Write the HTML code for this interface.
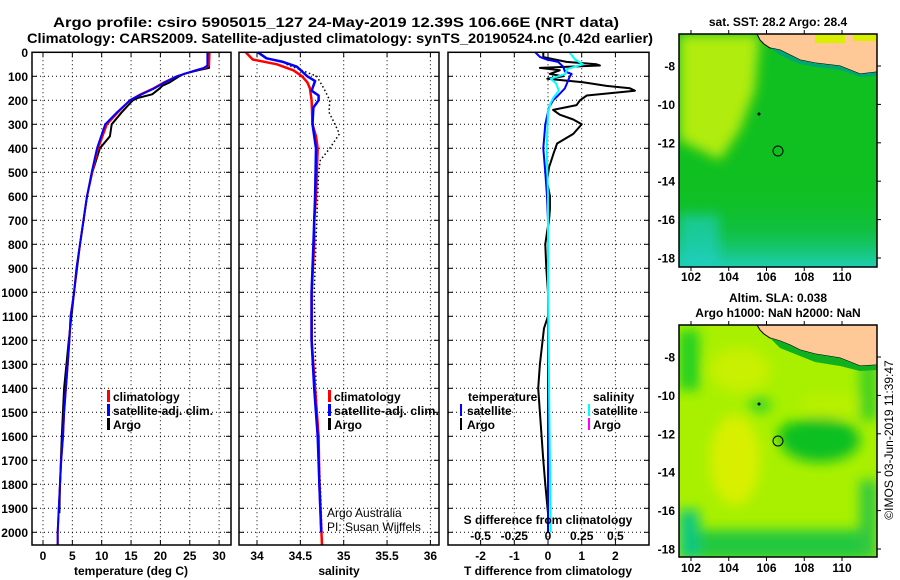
<!DOCTYPE html>
<html><head><meta charset="utf-8">
<style>
html,body{margin:0;padding:0;background:#fff;}
svg{display:block;font-family:"Liberation Sans",Arial,sans-serif;}
.b{font-weight:bold;font-size:12px;fill:#000;}
</style></head>
<body>
<svg id="chart" width="900" height="580" viewBox="0 0 900 580" xmlns="http://www.w3.org/2000/svg">
<defs>
 <clipPath id="c1"><rect x="32" y="40" width="199" height="505"/></clipPath>
 <clipPath id="c2"><rect x="239" y="40" width="200" height="505"/></clipPath>
 <clipPath id="c3"><rect x="448" y="40" width="201" height="505"/></clipPath>
 <clipPath id="m1"><rect x="679" y="34" width="198" height="233"/></clipPath>
 <clipPath id="m2"><rect x="679" y="325" width="198" height="232"/></clipPath>
 <filter id="bl" x="-20%" y="-20%" width="140%" height="140%"><feGaussianBlur stdDeviation="6"/></filter>
 <linearGradient id="sstBottom" x1="0" y1="0" x2="0" y2="1">
  <stop offset="0" stop-color="#10c030" stop-opacity="0"/>
  <stop offset="0.55" stop-color="#10c060" stop-opacity="0.5"/>
  <stop offset="1" stop-color="#20d0c0"/>
 </linearGradient>
</defs>
<text class="b" x="53" y="27" style="font-size:14px" textLength="566" lengthAdjust="spacingAndGlyphs">Argo profile: csiro 5905015_127 24-May-2019 12.39S 106.66E (NRT data)</text>
<text class="b" x="27" y="43" style="font-size:14px" textLength="626" lengthAdjust="spacingAndGlyphs">Climatology: CARS2009. Satellite-adjusted climatology: synTS_20190524.nc (0.42d earlier)</text>

<g id="grids"></g>
<g id="series"></g>
<g id="frames"></g>
<g id="labels"></g>

<g>
 <rect x="107" y="390" width="3" height="12" fill="#f00"/><text class="b" x="113" y="401">climatology</text>
 <rect x="107" y="404" width="3" height="12" fill="#00f"/><text class="b" x="113" y="415">satellite-adj. clim.</text>
 <rect x="107" y="418" width="3" height="12" fill="#000"/><text class="b" x="113" y="429">Argo</text>
</g>
<g>
 <rect x="328" y="390" width="3" height="12" fill="#f00"/><text class="b" x="334" y="401">climatology</text>
 <rect x="328" y="404" width="3" height="12" fill="#00f"/><text class="b" x="334" y="415" textLength="105" lengthAdjust="spacingAndGlyphs">satellite-adj. clim.</text>
 <rect x="328" y="418" width="3" height="12" fill="#000"/><text class="b" x="334" y="429">Argo</text>
</g>
<text x="327" y="517" style="font-size:12px">Argo Australia</text>
<text x="327" y="531" style="font-size:12px">PI: Susan Wijffels</text>
<g>
 <text class="b" x="468" y="401">temperature</text>
 <rect x="460" y="404" width="2" height="12" fill="#00f"/><text class="b" x="467" y="415">satellite</text>
 <rect x="460" y="418" width="2" height="12" fill="#000"/><text class="b" x="467" y="429">Argo</text>
 <text class="b" x="593" y="401">salinity</text>
 <rect x="588" y="404" width="2" height="12" fill="#0ff"/><text class="b" x="593" y="415">satellite</text>
 <rect x="588" y="418" width="2" height="12" fill="#f0f"/><text class="b" x="593" y="429">Argo</text>
</g>
<text class="b" x="548" y="524" text-anchor="middle">S difference from climatology</text>

<text class="b" x="778" y="26" text-anchor="middle">sat. SST: 28.2 Argo: 28.4</text>
<g clip-path="url(#m1)">
 <rect x="679" y="34" width="198" height="233" fill="#10c020"/>
 <polygon points="679,34 760,34 755,90 740,130 720,160 700,150 679,140" fill="#b0ec10" filter="url(#bl)"/>
 <rect x="679" y="180" width="198" height="90" fill="url(#sstBottom)"/>
 <rect x="679" y="215" width="40" height="52" fill="#20d0d0" opacity="0.6" filter="url(#bl)"/>
 <polygon points="757,34 877,34 877,72 860,74 840,66 815,63 800,60 790,55 780,50 770,48 764,44 760,40" fill="#ffc896" stroke="#000" stroke-width="1"/>
 <rect x="815" y="34" width="30" height="9" fill="#d8f000"/>
 <rect x="853" y="34" width="24" height="7" fill="#d8f000"/>
 <polygon points="770,48 780,50 790,55 800,60 815,63 840,66 860,74 877,72 877,76 860,77 840,70 815,67 800,64 790,60 780,55" fill="#00a870"/>
 <circle cx="778" cy="151" r="5" fill="none" stroke="#000" stroke-width="1"/>
 <circle cx="759" cy="114" r="1.5" fill="#000"/>
</g>
<rect x="679" y="34" width="198" height="233" fill="none" stroke="#000" stroke-width="1.5"/>

<text class="b" x="778" y="302" text-anchor="middle">Altim. SLA: 0.038</text>
<text class="b" x="778" y="317" text-anchor="middle">Argo h1000: NaN h2000: NaN</text>
<g clip-path="url(#m2)">
 <rect x="679" y="325" width="198" height="232" fill="#a8f000"/>
 <g filter="url(#bl)">
  <rect x="679" y="330" width="20" height="60" fill="#20d020"/>
  <ellipse cx="800" cy="435" rx="22" ry="14" fill="#00c800"/>
  <ellipse cx="820" cy="440" rx="40" ry="22" fill="#10c020"/>
  <ellipse cx="760" cy="405" rx="12" ry="8" fill="#40d820"/>
  <ellipse cx="735" cy="460" rx="25" ry="45" fill="#d8f000"/>
  <ellipse cx="740" cy="370" rx="30" ry="22" fill="#c8f000"/>
  <ellipse cx="830" cy="405" rx="30" ry="12" fill="#b8f000"/>
  <rect x="679" y="530" width="198" height="30" fill="#20c840"/>
  <rect x="679" y="510" width="20" height="50" fill="#10c880"/>
  <rect x="860" y="360" width="17" height="60" fill="#40d020"/>
  <rect x="860" y="480" width="17" height="80" fill="#30c840"/>
 </g>
 <polygon points="757,325 877,325 877,365 860,366 840,358 815,354 800,350 790,345 780,341 770,338 764,334 760,330" fill="#ffc896" stroke="#000" stroke-width="1"/>
 <polygon points="770,338 780,341 790,345 800,350 815,354 840,358 860,366 877,365 877,370 860,371 840,366 815,362 800,356 790,352 780,348" fill="#10b020"/>
 <circle cx="778" cy="441" r="5" fill="none" stroke="#000" stroke-width="1"/>
 <circle cx="759" cy="404" r="1.5" fill="#000"/>
</g>
<rect x="679" y="325" width="198" height="232" fill="none" stroke="#000" stroke-width="1.5"/>
<text transform="translate(893,440) rotate(-90)" text-anchor="middle" style="font-size:12px">©IMOS 03-Jun-2019 11:39:47</text>

<g id="mapaxes"></g>
</svg>
<script>
const depthTicks = [0,100,200,300,400,500,600,700,800,900,1000,1100,1200,1300,1400,1500,1600,1700,1800,1900,2000];
const tempTicks = [0,5,10,15,20,25,30];
const salTicks = [34,34.5,35,35.5,36];
const salTickLabels = ["34","34.5","35","35.5","36"];
const dTTicks = [-2,-1,0,1,2];
const dSTicks = [-0.5,-0.25,0,0.25,0.5];
const dSTickLabels = ["-0.5","-0.25","0","0.25","0.5"];

const climDepth = [0,55,65,75,100,125,150,175,200,250,300,400,500,600,700,800,900,1000,1100,1200,1300,1400,1500,1600,1700,1800,1900,2000,2054];
const climTemp  = [28.4,28.3,27.6,26,22.8,20.6,18.8,16.6,14.8,12.8,10.9,9.4,8.4,7.5,6.9,6.3,5.7,5.3,4.7,4.5,4.2,3.9,3.6,3.4,3.1,2.9,2.7,2.5,2.5];
const satTemp   = [28.0,28.0,27.4,26,22.8,20.8,19.0,16.8,14.8,12.6,10.6,9.2,8.3,7.5,6.9,6.3,5.7,5.3,4.7,4.5,4.2,3.9,3.6,3.4,3.1,2.9,2.7,2.5,2.5];
const argoTDepth = [0,65,75,90,100,125,140,150,175,190,200,250,300,350,400,500,600,700,800,1000,1200,1400,1600,1800,1920];
const argoTemp   = [28.3,28.3,26.4,24,23.2,21.6,20.3,19.9,18.6,16.2,15.3,13.4,11.7,11.4,9.7,8.4,7.5,6.9,6.3,5.3,4.4,3.6,3.2,2.9,2.8];

const climSal = [33.87,33.95,34.23,34.42,34.52,34.58,34.61,34.63,34.64,34.68,34.70,34.69,34.68,34.66,34.66,34.63,34.63,34.67,34.71,34.72,34.75];
const satSal  = [34.01,34.11,34.30,34.46,34.52,34.58,34.67,34.63,34.71,34.71,34.65,34.64,34.68,34.67,34.65,34.63,34.63,34.66,34.70,34.72,34.74];
const salDepth = [0,25,40,60,80,100,120,160,180,200,230,300,400,600,800,1000,1200,1400,1600,1800,2000];
const climSalDepth = [0,30,50,75,100,125,150,200,300,350,400,500,600,700,800,1000,1200,1400,1600,1800,2054];
const argoSalDepth = [50,100,150,200,250,300,340,400,450,500,700,1000,1400,1800,2000];
const argoSal      = [34.34,34.69,34.77,34.84,34.83,34.90,34.95,34.84,34.73,34.71,34.69,34.66,34.68,34.73,34.75];

const dTArgoDepth = [0,20,40,50,55,65,75,90,100,110,125,140,150,160,180,200,220,240,260,280,300,340,380,420,480,540,600,650,700,750,800,900,1000,1100,1150,1300,1400,1500,1600,1700,1800,1920];
const dTArgo      = [-0.14,-0.14,0.55,1.44,1.54,-0.24,0.35,0.05,0.45,-0.02,1.04,1.74,2.43,2.58,1.15,0.95,0.85,0.15,0.35,0.75,1.0,0.75,0.27,0.17,0.03,-0.03,0.06,0.06,0.03,-0.03,-0.08,-0.05,0.0,0.0,-0.12,-0.24,-0.29,-0.24,-0.19,-0.14,-0.08,0.0];
const dTSatDepth = [0,20,30,40,60,80,90,100,130,150,180,200,230,300,400,500,600,700,800,1000,1500,2000];
const dTSat      = [-0.38,-0.23,-0.04,0.30,0.45,0.50,0.70,0.65,0.56,0.50,0.30,0.15,0.03,-0.08,-0.14,-0.08,-0.03,0.0,0.0,0.0,0.0,0.0];
const dSSatDepth = [0,30,50,70,90,110,130,160,190,210,250,400,600,1000,2000];
const dSSat      = [0.16,0.20,0.26,0.14,0.13,0.02,0.06,0.08,0.04,0.02,0.0,-0.01,0.0,0.0,0.02];

const lonTicks = [102,104,106,108,110];
const latTicks = [-8,-10,-12,-14,-16,-18];

const yD = d => 52.3 + d*0.24;
const xT = t => 43 + t*5.87;
const xS = s => 257 + (s-34)*86.7;
const xdT = v => 548 + v*33.7;
const xdS = v => 548 + v*134.8;
const mapX = lon => 691 + (lon-102)*18.875;
const map1Y = lat => 66 + (-8-lat)*19.2;
const map2Y = lat => 357 + (-8-lat)*19.2;

const NS = "http://www.w3.org/2000/svg";
function mk(tag, attrs, parent, txt){
  const e = document.createElementNS(NS, tag);
  for (const k in attrs) e.setAttribute(k, attrs[k]);
  if (txt !== undefined) e.textContent = txt;
  parent.appendChild(e);
  return e;
}
const gGrid = document.getElementById('grids');
const gSeries = document.getElementById('series');
const gFrames = document.getElementById('frames');
const gLabels = document.getElementById('labels');
const panels = [{x0:32,x1:231},{x0:239,x1:439},{x0:448,x1:649}];
const pTop = 52.3, pBot = 545;

panels.forEach(p=>{
  depthTicks.forEach(d=>{
    if(d===0) return;
    const ln = mk('line',{x1:p.x0,x2:p.x1,y1:yD(d),y2:yD(d),stroke:'#000','stroke-width':1,'stroke-dasharray':'1,3'},gGrid);
    
    
    mk('line',{x1:p.x0,x2:p.x0+5,y1:yD(d),y2:yD(d),stroke:'#000'},gGrid);
    mk('line',{x1:p.x1-5,x2:p.x1,y1:yD(d),y2:yD(d),stroke:'#000'},gGrid);
  });
});
function vgrid(vals, fx){
  vals.forEach(v=>{
    const ln = mk('line',{x1:fx(v),x2:fx(v),y1:pTop,y2:pBot,stroke:'#000','stroke-width':1,'stroke-dasharray':'1,3'},gGrid);
    
    
    mk('line',{x1:fx(v),x2:fx(v),y1:pTop,y2:pTop+5,stroke:'#000'},gGrid);
    mk('line',{x1:fx(v),x2:fx(v),y1:pBot,y2:pBot-5,stroke:'#000'},gGrid);
  });
}
vgrid(tempTicks,xT); vgrid(salTicks,xS); vgrid(dTTicks,xdT);

panels.forEach((p,i)=>{
  const r = mk('rect',{x:p.x0,y:pTop,width:p.x1-p.x0,height:pBot-pTop,fill:'none',stroke:'#000','stroke-width':1.5},gFrames);
  
  
});

function line(xs, ds, fx, color, clip, name, w, dash){
  const pts = xs.map((v,i)=>fx(v).toFixed(1)+','+yD(ds[i]).toFixed(1)).join(' ');
  const attrs = {points:pts,fill:'none',stroke:color,'stroke-width':w||2,'clip-path':'url(#'+clip+')','stroke-linejoin':'round'};
  if(dash) attrs['stroke-dasharray']=dash;
  const pl = mk('polyline',attrs,gSeries);
  
  
}
line(argoTemp,argoTDepth,xT,'#000','c1','temperature-argo-line',2);
line(climTemp,climDepth,xT,'#f00','c1','temperature-climatology-line',2);
line(satTemp,climDepth,xT,'#00f','c1','temperature-satellite-line',2);
line(argoSal,argoSalDepth,xS,'#000','c2','salinity-argo-line',1.5,'1.5,2.5');
line(climSal,climSalDepth,xS,'#f00','c2','salinity-climatology-line',2.5);
line(satSal,salDepth,xS,'#00f','c2','salinity-satellite-line',2.5);
line(dTArgo,dTArgoDepth,xdT,'#000','c3','t-difference-argo-line',2);
line(dTSat,dTSatDepth,xdT,'#00f','c3','t-difference-satellite-line',2);
line(dSSat,dSSatDepth,xdS,'#0ff','c3','s-difference-satellite-line',2);

depthTicks.forEach(d=>{
  const t = mk('text',{x:28,y:yD(d)+4.5,'text-anchor':'end',class:'b'},gLabels,String(d));
  
  
});
tempTicks.forEach(v=>{
  const t = mk('text',{x:xT(v),y:560,'text-anchor':'middle',class:'b'},gLabels,String(v));
  
  
});
salTicks.forEach((v,i)=>{
  const t = mk('text',{x:xS(v),y:560,'text-anchor':'middle',class:'b'},gLabels,salTickLabels[i]);
  
  
});
dTTicks.forEach(v=>{
  const t = mk('text',{x:xdT(v),y:560,'text-anchor':'middle',class:'b'},gLabels,String(v));
  
  
});
dSTicks.forEach((v,i)=>{
  const t = mk('text',{x:xdS(v),y:540,'text-anchor':'middle',class:'b'},gLabels,dSTickLabels[i]);
  
  
});
[[131,'temperature (deg C)','temperature-axis-title'],[339,'salinity','salinity-axis-title'],[548,'T difference from climatology','t-difference-axis-title']].forEach(a=>{
  const t = mk('text',{x:a[0],y:575,'text-anchor':'middle',class:'b'},gLabels,a[1]);
  
  
});

const gMap = document.getElementById('mapaxes');
[[map1Y,34,267,277],[map2Y,325,557,568]].forEach(m=>{
  lonTicks.forEach(lon=>{
    const t = mk('text',{x:mapX(lon),y:m[3]+4,'text-anchor':'middle',class:'b'},gMap,String(lon));
    
    
    mk('line',{x1:mapX(lon),x2:mapX(lon),y1:m[1],y2:m[1]-4,stroke:'#000'},gMap);
    mk('line',{x1:mapX(lon),x2:mapX(lon),y1:m[2],y2:m[2]+4,stroke:'#000'},gMap);
  });
  latTicks.forEach(lat=>{
    const t = mk('text',{x:675,y:m[0](lat)+4.5,'text-anchor':'end',class:'b'},gMap,String(lat));
    
    
    mk('line',{x1:877,x2:881,y1:m[0](lat),y2:m[0](lat),stroke:'#000'},gMap);
  });
});
</script>
</body></html>
